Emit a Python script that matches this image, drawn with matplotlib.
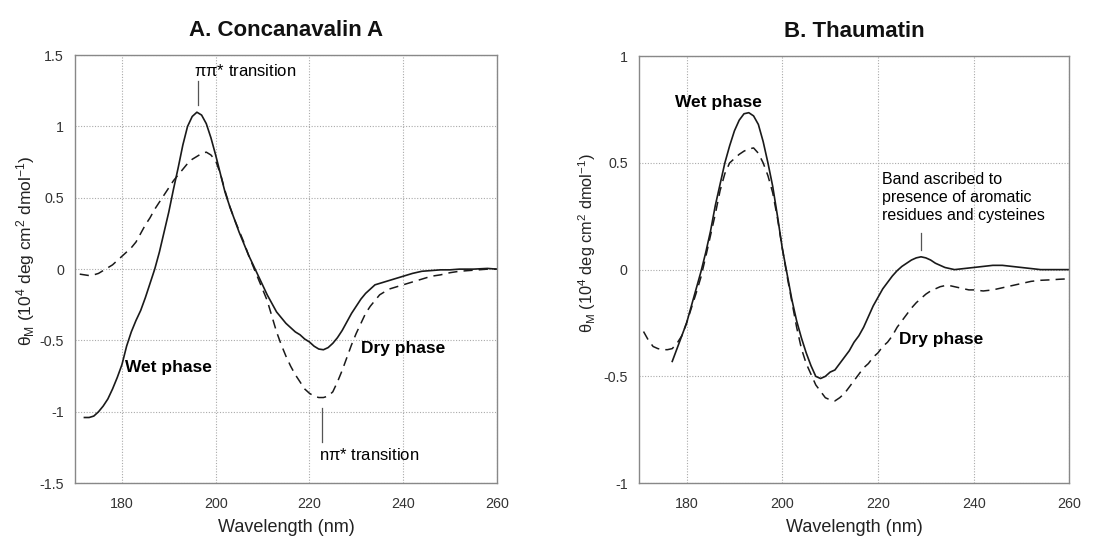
import matplotlib
matplotlib.use('Agg')
import matplotlib.pyplot as plt

# 伴刀豆球蛋白A (Concanavalin A) 圆二色谱
cona_wet_nm = [172, 173, 174, 175, 176, 177, 178, 179, 180, 181, 182, 183, 184, 185, 186, 187,
               188, 189, 190, 191, 192, 193, 194, 195, 196, 197, 198, 199, 200, 201, 202, 203,
               204, 205, 206, 207, 208, 209, 210, 211, 212, 213, 214, 215, 216, 217, 218, 219,
               220, 221, 222, 223, 224, 225, 226, 227, 228, 229, 230, 231, 232, 233, 234, 235,
               236, 238, 240, 242, 244, 246, 248, 250, 252, 255, 258, 260]
cona_wet = [-1.04, -1.04, -1.03, -1.00, -0.96, -0.91, -0.84, -0.76, -0.67, -0.54, -0.44, -0.36,
            -0.29, -0.20, -0.10, 0.00, 0.12, 0.26, 0.40, 0.56, 0.71, 0.87, 1.00, 1.07, 1.10, 1.08,
            1.02, 0.92, 0.80, 0.67, 0.54, 0.44, 0.35, 0.26, 0.18, 0.10, 0.03, -0.04, -0.11, -0.18,
            -0.24, -0.30, -0.34, -0.38, -0.41, -0.44, -0.46, -0.49, -0.51, -0.54, -0.56, -0.565,
            -0.55, -0.52, -0.48, -0.43, -0.37, -0.31, -0.26, -0.21, -0.17, -0.14, -0.11, -0.10,
            -0.09, -0.07, -0.05, -0.03, -0.015, -0.01, -0.005, -0.005, 0.0, 0.0, 0.005, 0.0]

cona_dry_nm = [171, 172, 173, 174, 175, 176, 177, 178, 179, 180, 181, 182, 183, 184, 185, 186,
               187, 188, 189, 190, 191, 192, 193, 194, 195, 196, 197, 198, 199, 200, 201, 202,
               203, 204, 205, 206, 207, 208, 209, 210, 211, 212, 213, 214, 215, 216, 217, 218,
               219, 220, 221, 222, 223, 224, 225, 226, 227, 228, 229, 230, 231, 232, 233, 234,
               235, 236, 237, 238, 239, 240, 242, 244, 246, 248, 250, 252, 254, 256, 258, 260]
cona_dry = [-0.035, -0.04, -0.045, -0.04, -0.03, -0.01, 0.01, 0.03, 0.06, 0.09, 0.12, 0.15,
            0.19, 0.25, 0.31, 0.36, 0.42, 0.47, 0.52, 0.57, 0.62, 0.66, 0.70, 0.74, 0.77, 0.79,
            0.81, 0.82, 0.80, 0.76, 0.67, 0.55, 0.44, 0.35, 0.27, 0.19, 0.10, 0.02, -0.06, -0.14,
            -0.22, -0.33, -0.44, -0.53, -0.61, -0.68, -0.74, -0.79, -0.84, -0.87, -0.89, -0.90,
            -0.90, -0.89, -0.86, -0.79, -0.71, -0.62, -0.53, -0.45, -0.38, -0.31, -0.26, -0.22,
            -0.18, -0.16, -0.14, -0.13, -0.12, -0.11, -0.09, -0.07, -0.05, -0.04, -0.025, -0.015,
            -0.01, -0.005, 0.0, 0.0]

# 索马甜 (Thaumatin) 圆二色谱
thau_wet_nm = [177, 178, 179, 180, 181, 182, 183, 184, 185, 186, 187, 188, 189, 190, 191, 192,
               193, 194, 195, 196, 197, 198, 199, 200, 201, 202, 203, 204, 205, 206, 207, 208,
               209, 210, 211, 212, 213, 214, 215, 216, 217, 218, 219, 220, 221, 222, 223, 224,
               225, 226, 227, 228, 229, 230, 231, 232, 233, 234, 235, 236, 238, 240, 242, 244,
               246, 248, 250, 252, 254, 256, 258, 260]
thau_wet = [-0.43, -0.37, -0.31, -0.25, -0.17, -0.09, -0.01, 0.08, 0.18, 0.30, 0.40, 0.50, 0.58,
            0.65, 0.70, 0.73, 0.735, 0.72, 0.68, 0.60, 0.50, 0.39, 0.25, 0.10, -0.02, -0.14, -0.24,
            -0.32, -0.39, -0.45, -0.50, -0.51, -0.50, -0.48, -0.47, -0.44, -0.41, -0.38, -0.34,
            -0.31, -0.27, -0.22, -0.17, -0.13, -0.09, -0.06, -0.03, -0.005, 0.015, 0.03, 0.045,
            0.055, 0.06, 0.055, 0.045, 0.03, 0.02, 0.01, 0.005, 0.0, 0.005, 0.01, 0.015, 0.02,
            0.02, 0.015, 0.01, 0.005, 0.0, 0.0, 0.0, 0.0]

thau_dry_nm = [171, 172, 173, 174, 175, 176, 177, 178, 179, 180, 181, 182, 183, 184, 185, 186,
               187, 188, 189, 190, 191, 192, 193, 194, 195, 196, 197, 198, 199, 200, 201, 202,
               203, 204, 205, 206, 207, 208, 209, 210, 211, 212, 213, 214, 215, 216, 217, 218,
               219, 220, 221, 222, 223, 224, 225, 226, 227, 228, 229, 230, 231, 232, 233, 234,
               235, 236, 237, 238, 239, 240, 242, 244, 246, 248, 250, 252, 254, 256, 258, 260]
thau_dry = [-0.29, -0.33, -0.36, -0.37, -0.375, -0.375, -0.37, -0.345, -0.31, -0.25, -0.18,
            -0.11, -0.035, 0.06, 0.16, 0.26, 0.37, 0.45, 0.50, 0.52, 0.54, 0.555, 0.565, 0.57,
            0.545, 0.50, 0.44, 0.36, 0.24, 0.10, -0.03, -0.15, -0.27, -0.37, -0.44, -0.49, -0.54,
            -0.57, -0.60, -0.61, -0.615, -0.60, -0.58, -0.55, -0.52, -0.49, -0.46, -0.44, -0.41,
            -0.39, -0.36, -0.34, -0.31, -0.27, -0.24, -0.21, -0.18, -0.155, -0.135, -0.115, -0.10,
            -0.09, -0.08, -0.075, -0.075, -0.08, -0.085, -0.09, -0.095, -0.095, -0.10, -0.095,
            -0.085, -0.075, -0.065, -0.055, -0.05, -0.048, -0.045, -0.043]

x_ticks = [180, 200, 220, 240, 260]
cona_y_ticks = [-1.5, -1, -0.5, 0, 0.5, 1, 1.5]
thau_y_ticks = [-1, -0.5, 0, 0.5, 1]

# 字体设置
plt.rcParams['font.family'] = ['Liberation Sans', 'DejaVu Sans']
plt.rcParams['mathtext.fontset'] = 'custom'
plt.rcParams['mathtext.rm'] = 'Liberation Sans'
plt.rcParams['mathtext.it'] = 'Liberation Sans'
plt.rcParams['mathtext.bf'] = 'Liberation Sans:bold'

YLABEL = r'$\theta_{\rm M}$ (10$^4$ deg cm$^2$ dmol$^{-1}$)'


def style_axes(ax, title, y_ticks, ylabel_size):
    """
    设置坐标轴、网格与标题
    """
    ax.set_xlim(170, 260)
    ax.set_ylim(y_ticks[0], y_ticks[-1])
    ax.set_xticks(x_ticks)
    ax.set_yticks(y_ticks)
    ax.set_yticklabels([f'{v:g}' for v in y_ticks])
    ax.tick_params(length=0, labelsize=10.3, colors='#333333')
    ax.tick_params(axis='x', pad=10)
    ax.tick_params(axis='y', pad=8)
    ax.grid(True, linestyle=(0, (1, 1.5)), color='#aaaaaa', linewidth=0.8)
    for spine in ax.spines.values():
        spine.set_color('#888888')
        spine.set_linewidth(1.0)
    ax.set_xlabel('Wavelength (nm)', fontsize=13, labelpad=6, color='#222222')
    ax.set_ylabel(YLABEL, fontsize=ylabel_size, color='#222222')
    ax.set_title(title, fontsize=16, fontweight='bold', pad=14, color='#111111')


fig = plt.figure(figsize=(11.07, 5.38), dpi=100)
ax1 = fig.add_axes([0.0678, 0.102, 0.381, 0.7955])
ax2 = fig.add_axes([0.577, 0.102, 0.389, 0.7937])

line_kw = dict(color='#1a1a1a', linewidth=1.2)
dash_kw = dict(color='#1a1a1a', linewidth=1.1, dashes=(6, 4))

# A. Concanavalin A
ax1.plot(cona_wet_nm, cona_wet, **line_kw)
ax1.plot(cona_dry_nm, cona_dry, **dash_kw)
style_axes(ax1, 'A. Concanavalin A', cona_y_ticks, 12.5)
ax1.yaxis.set_label_coords(-0.09, 0.542)

ax1.text(195.4, 1.39, r'$\pi\pi$* transition', fontsize=12, va='center', ha='left')
ax1.plot([196.3, 196.3], [1.32, 1.15], color='#555555', linewidth=0.9)
ax1.text(222.0, -1.30, r'n$\pi$* transition', fontsize=12, va='center', ha='left')
ax1.plot([222.8, 222.8], [-0.97, -1.215], color='#555555', linewidth=0.9)
ax1.text(180.7, -0.69, 'Wet phase', fontsize=12.5, fontweight='bold', va='center', ha='left')
ax1.text(231.1, -0.555, 'Dry phase', fontsize=12.5, fontweight='bold', va='center', ha='left')

# B. Thaumatin
ax2.plot(thau_wet_nm, thau_wet, **line_kw)
ax2.plot(thau_dry_nm, thau_dry, **dash_kw)
style_axes(ax2, 'B. Thaumatin', thau_y_ticks, 11.8)
ax2.yaxis.set_label_coords(-0.095, 0.562)

ax2.text(177.5, 0.785, 'Wet phase', fontsize=12.5, fontweight='bold', va='center', ha='left')
ax2.text(224.3, -0.327, 'Dry phase', fontsize=12.5, fontweight='bold', va='center', ha='left')
ax2.text(220.9, 0.34, 'Band ascribed to\npresence of aromatic\nresidues and cysteines',
         fontsize=11.5, va='center', ha='left', linespacing=1.25)
ax2.plot([229.0, 229.0], [0.17, 0.093], color='#555555', linewidth=0.9)

plt.savefig('out.png', dpi=100)
plt.close()
